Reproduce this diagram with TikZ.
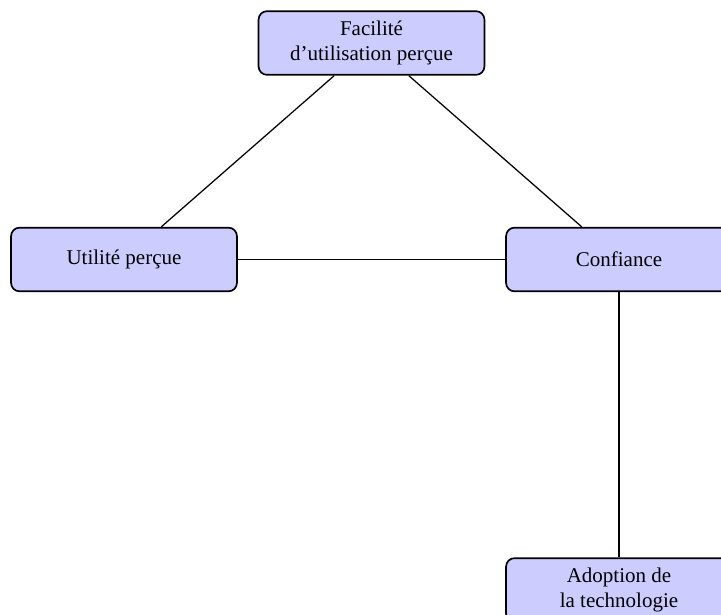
\documentclass[tikz,border=0pt]{standalone}
\usepackage{fontspec}
\setmainfont{Liberation Serif}
\begin{document}
\begin{tikzpicture}[x=0.476pt,y=-0.476pt,
  box/.style={draw, line width=0.8pt, rounded corners=4pt, fill=blue!20,
    minimum width=107.5pt, minimum height=30.3pt, align=center, font=\fontsize{10}{12}\selectfont, inner sep=2pt},
  link/.style={line width=0.6pt}]
\clip (0,0) rectangle (721,614);
\node[box] (fac) at (371.5,43) {Facilité\\d’utilisation perçue};
\node[box] (uti) at (124,259.5) {Utilité perçue};
\node[box] (conf) at (619,259.5) {Confiance};
\node[box] (adop) at (619,590) {Adoption de\\la technologie};
\draw[link] (fac) -- (uti);
\draw[link] (fac) -- (conf);
\draw[link] (uti) -- (conf);
\draw[link] (conf) -- (adop);
\end{tikzpicture}
\end{document}
